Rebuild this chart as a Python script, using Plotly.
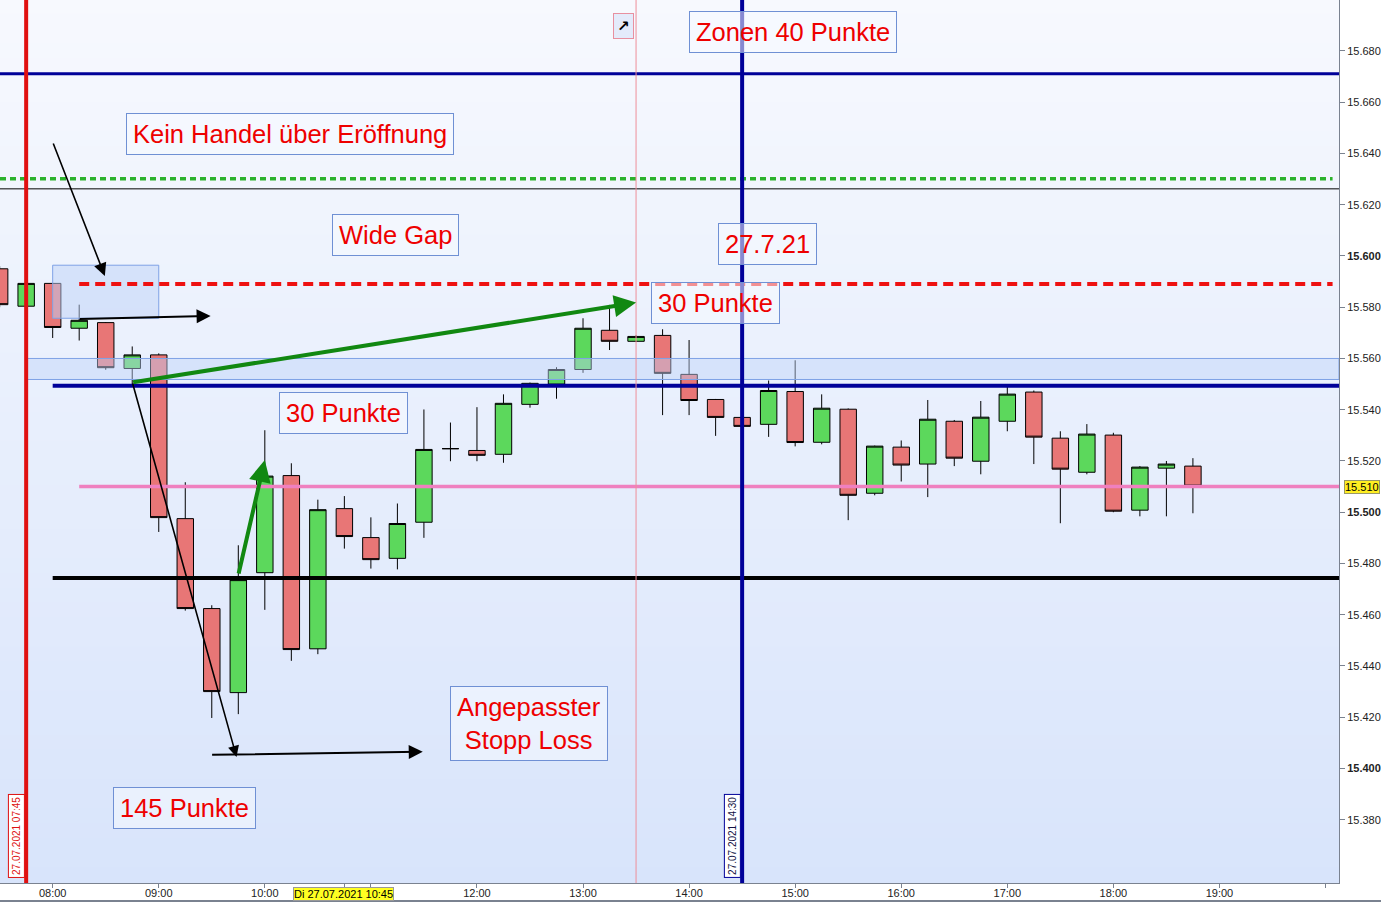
import plotly.graph_objects as go
import pandas as pd

# ---------------- data ----------------
times = pd.date_range("2021-07-27 07:30", periods=46, freq="15min")
opens = [15595, 15580.4, 15589.3, 15571.8, 15574, 15556.1, 15561.4, 15497.5, 15462.4, 15429.6,
         15476.4, 15514.3, 15446.7, 15501.4, 15490.1, 15482, 15496.1, 15524.8, 15524.1, 15522.6,
         15542.1, 15550, 15555.7, 15571, 15566.7, 15569, 15553.8, 15544, 15537, 15534.3,
         15547.1, 15527.3, 15540.2, 15507.4, 15525.4, 15518.8, 15535.5, 15519.9, 15535.5, 15546.9,
         15528.9, 15515.6, 15530.1, 15500.8, 15517.2, 15518]
highs = [15596, 15590, 15589.5, 15581, 15574.2, 15564.7, 15562, 15511.7, 15463.7, 15487.1,
         15532, 15519.1, 15504.9, 15506.3, 15498, 15503.4, 15540.1, 15535, 15541, 15546,
         15550.6, 15556.6, 15575.7, 15580.9, 15569, 15571.4, 15567.2, 15544.2, 15537.5, 15551.4,
         15559.3, 15546, 15540.5, 15526, 15528, 15543.8, 15536, 15543.4, 15550, 15547.5,
         15531.6, 15534.4, 15531, 15518, 15520, 15521.1]
lows = [15580, 15580, 15568, 15567, 15555.6, 15550, 15492.3, 15461.6, 15419.7, 15421.2,
        15461.9, 15442, 15444.6, 15485.8, 15478, 15477.7, 15490, 15519.9, 15519.9, 15519.3,
        15540.8, 15544.3, 15554.4, 15563.3, 15566.5, 15537.9, 15537.9, 15529.8, 15533, 15529.4,
        15525.7, 15526.5, 15496.9, 15506.6, 15512, 15505.9, 15518, 15514.8, 15531.6, 15518.8,
        15495.7, 15514.8, 15500, 15498.4, 15498.4, 15499.6]
closes = [15581, 15589.3, 15572.1, 15574.9, 15556.4, 15561.4, 15497.9, 15462.4, 15430, 15473.7,
          15514.1, 15446.4, 15501, 15490.5, 15481.5, 15495.6, 15524.5, 15524.8, 15522.2, 15542.5,
          15550.3, 15555.7, 15571.8, 15566.7, 15568.6, 15554.2, 15543.6, 15537, 15533.5, 15547.5,
          15527.2, 15540.6, 15506.6, 15525.8, 15518.4, 15536.3, 15521.1, 15537.1, 15546.1, 15529.3,
          15516.8, 15530.5, 15500.4, 15517.6, 15518.8, 15510.2]

# x axis ticks
x_tickvals = ["2021-07-27 %s" % t for t in
              ["08:00", "09:00", "10:00", "10:45", "11:00", "12:00", "13:00", "14:00",
               "15:00", "16:00", "17:00", "18:00", "19:00", "20:00"]]
x_ticktext = ["08:00", "09:00", "10:00", "", "", "12:00", "13:00", "14:00",
              "15:00", "16:00", "17:00", "18:00", "19:00", ""]
# y axis ticks
y_tickvals = list(range(15380, 15700, 20))
y_ticktext = [("<b>%s</b>" if v % 100 == 0 else "%s") % ("15.%03d" % (v - 15000)) for v in y_tickvals]

# horizontal levels
zone_top = 15671.1
green_level = 15630.1
thin_black_level = 15626.2
red_level = 15589.1
navy_level = 15549.4
pink_level = 15510.0
black_level = 15474.3
band_levels = [15551.8, 15560.0]
gap_box_levels = [15575.7, 15596.4]
gap_box_times = ["2021-07-27 08:00", "2021-07-27 09:00"]

# arrows: (tail_time, tail_price, head_time, head_price)
arrow_black1 = ("2021-07-27 08:00", 15644.5, "2021-07-27 08:29:30", 15592.2)
arrow_black2 = ("2021-07-27 08:14:30", 15575.4, "2021-07-27 09:29:20", 15576.6)
arrow_green1 = ("2021-07-27 08:44:40", 15550.6, "2021-07-27 13:30", 15581.8)
arrow_black3 = ("2021-07-27 08:45", 15550.8, "2021-07-27 09:44", 15404.5)
arrow_black4 = ("2021-07-27 09:29:20", 15405.3, "2021-07-27 11:29:20", 15406.5)
arrow_green2 = ("2021-07-27 09:45", 15475.5, "2021-07-27 10:00", 15520.4)

X0, X1 = "2021-07-27 07:30:12", "2021-07-27 20:07:38"
Y0, Y1 = 15355.3, 15699.9

fig = go.Figure()
fig.add_trace(go.Candlestick(
    x=times, open=opens, high=highs, low=lows, close=closes,
    increasing=dict(fillcolor="#5cd85c", line=dict(color="black", width=1)),
    decreasing=dict(fillcolor="#e87676", line=dict(color="black", width=1)),
    whiskerwidth=0, showlegend=False, hoverinfo="skip"))

shapes = []
# gradient background
nb = 60
top_c = (247, 249, 254)
bot_c = (216, 228, 251)
for i in range(nb):
    f = (i + 0.5) / nb
    c = tuple(int(round(top_c[k] + (bot_c[k] - top_c[k]) * f)) for k in range(3))
    shapes.append(dict(type="rect", xref="paper", yref="paper", x0=0, x1=1,
                       y0=1 - (i + 1) / nb, y1=1 - i / nb + 0.001, layer="below",
                       line=dict(width=0), fillcolor="rgb(%d,%d,%d)" % c))

def hline(y, x0, x1, color, width, dash="solid", xref="x"):
    shapes.append(dict(type="line", xref=xref, yref="y", x0=x0, x1=x1, y0=y, y1=y,
                       line=dict(color=color, width=width, dash=dash)))

# light blue band & gap box
shapes.append(dict(type="rect", xref="x", yref="y", x0="2021-07-27 07:45:10", x1=X1,
                   y0=band_levels[0], y1=band_levels[1],
                   fillcolor="rgba(190,210,248,0.45)", line=dict(color="#7fa2e6", width=1)))
shapes.append(dict(type="rect", xref="x", yref="y", x0=gap_box_times[0], x1=gap_box_times[1],
                   y0=gap_box_levels[0], y1=gap_box_levels[1],
                   fillcolor="rgba(190,210,248,0.5)", line=dict(color="#7fa2e6", width=1)))

hline(zone_top, X0, X1, "#000099", 3)
hline(green_level, X0, "2021-07-27 20:04", "#2cb22c", 3.5, "6px,4px")
hline(thin_black_level, X0, X1, "#000000", 1)
hline(red_level, "2021-07-27 08:15", "2021-07-27 20:04", "#ee1111", 4, "10px,6px")
hline(navy_level, "2021-07-27 08:00", X1, "#000099", 4)
hline(pink_level, "2021-07-27 08:15", X1, "#ef80bf", 3.5)
hline(black_level, "2021-07-27 08:00", X1, "#000000", 4)

# vertical lines
for t, col, w in [("2021-07-27 07:45", "#e01010", 4), ("2021-07-27 14:30", "#000099", 4),
                  ("2021-07-27 13:30", "#ee8f9a", 1)]:
    shapes.append(dict(type="line", xref="x", yref="paper", x0=t, x1=t, y0=0, y1=1,
                       line=dict(color=col, width=w)))

# bottom frame line
shapes.append(dict(type="line", xref="paper", yref="paper", x0=0, x1=1.04, y0=-0.0205, y1=-0.0205,
                   line=dict(color="#7a8290", width=2)))

annotations = []

def arrow(a, color, width, size):
    annotations.append(dict(x=a[2], y=a[3], ax=a[0], ay=a[1], xref="x", yref="y",
                            axref="x", ayref="y", text="", showarrow=True, arrowhead=2,
                            arrowsize=size, arrowwidth=width, arrowcolor=color, standoff=0))

arrow(arrow_black1, "#000000", 1.6, 1.6)
arrow(arrow_black2, "#000000", 2, 1.4)
arrow(arrow_green1, "#118811", 4, 1.1)
arrow(arrow_black3, "#000000", 1.6, 1.4)
arrow(arrow_black4, "#000000", 2, 1.4)
arrow(arrow_green2, "#118811", 4, 1.1)

def tbox(text, x, y):
    annotations.append(dict(text=text, x=x, y=y, xref="paper", yref="paper",
                            xanchor="center", yanchor="middle", showarrow=False,
                            font=dict(family="Liberation Sans, Arial", size=25.5, color="#ee0000"),
                            bgcolor="rgba(246,249,255,0.55)", bordercolor="#6f90d4",
                            borderwidth=1, borderpad=6))

tbox("Kein Handel über Eröffnung", 0.2166, 0.8477)
tbox("Wide Gap", 0.2957, 0.7339)
tbox("Zonen 40 Punkte", 0.5925, 0.9638)
tbox("27.7.21", 0.5735, 0.7237)
tbox("30 Punkte", 0.5343, 0.6563)
tbox("30 Punkte", 0.2562, 0.5328)
tbox("Angepasster<br>Stopp Loss", 0.3952, 0.1812)
tbox("145 Punkte", 0.1376, 0.0849)

small = dict(family="Liberation Sans, Arial", size=10)
annotations.append(dict(text="27.07.2021 07:45", x=0.0119, y=0.0532, xref="paper", yref="paper",
                        xanchor="center", yanchor="middle",
                        textangle=-90, showarrow=False, font=dict(small, color="#dd1111"),
                        bgcolor="#ffffff", bordercolor="#dd1111", borderwidth=1, borderpad=2))
annotations.append(dict(text="27.07.2021 14:30", x=0.5466, y=0.0532, xref="paper", yref="paper",
                        xanchor="center", yanchor="middle",
                        textangle=-90, showarrow=False, font=dict(small, color="#111144"),
                        bgcolor="#ffffff", bordercolor="#000099", borderwidth=1, borderpad=2))
annotations.append(dict(text="Di 27.07.2021 10:45", x=0.2569, y=-0.0125, xref="paper", yref="paper",
                        xanchor="center", yanchor="middle",
                        showarrow=False, font=dict(family="Liberation Sans, Arial", size=11, color="#000000"),
                        bgcolor="#ffff22", bordercolor="#999999", borderwidth=1, borderpad=0))
annotations.append(dict(text="15.510", x=1.0037, y=pink_level, xref="paper", yref="y",
                        xanchor="left", yanchor="middle", showarrow=False,
                        font=dict(family="Liberation Sans, Arial", size=11, color="#000000"),
                        bgcolor="#ffee22", bordercolor="#999966", borderwidth=1, borderpad=0))
annotations.append(dict(text="15.702", x=1.0037, y=15702, xref="paper", yref="y",
                        xanchor="left", yanchor="middle", showarrow=False,
                        font=dict(family="Liberation Sans, Arial", size=11, color="#000000"),
                        bgcolor="#ffee22", bordercolor="#999966", borderwidth=1, borderpad=0))
annotations.append(dict(text="<b>↗</b>", x=0.4653, y=0.9711, xref="paper", yref="paper",
                        xanchor="center", yanchor="middle",
                        showarrow=False, font=dict(family="DejaVu Sans", size=15, color="#000000"),
                        bgcolor="#e4ebfb", bordercolor="#e890a0", borderwidth=1, borderpad=3))

fig.update_layout(
    width=1381, height=902,
    margin=dict(l=0, r=40, t=0, b=19),
    paper_bgcolor="#ffffff", plot_bgcolor="#eef2fd",
    boxgap=0.38, boxgroupgap=0,
    shapes=shapes, annotations=annotations,
    showlegend=False,
    xaxis=dict(type="date", range=[X0, X1], rangeslider=dict(visible=False),
               tickvals=x_tickvals, ticktext=x_ticktext, ticks="outside", ticklen=4,
               ticklabelstandoff=-4,
               tickcolor="#7a8290", showgrid=False, zeroline=False, showline=True,
               linecolor="#7a8290", linewidth=1,
               tickfont=dict(family="Liberation Sans, Arial", size=11, color="#222222")),
    yaxis=dict(range=[Y0, Y1], side="right", tickvals=y_tickvals, ticktext=y_ticktext,
               ticks="outside", ticklen=5, tickcolor="#7a8290", showgrid=False,
               zeroline=False, showline=True, linecolor="#7a8290", linewidth=1,
               tickfont=dict(family="Liberation Sans, Arial", size=11, color="#222222")),
)

fig.write_html("out.html", config={"displayModeBar": False},
               post_script="document.body.style.margin='0';document.body.style.overflow='hidden';")
